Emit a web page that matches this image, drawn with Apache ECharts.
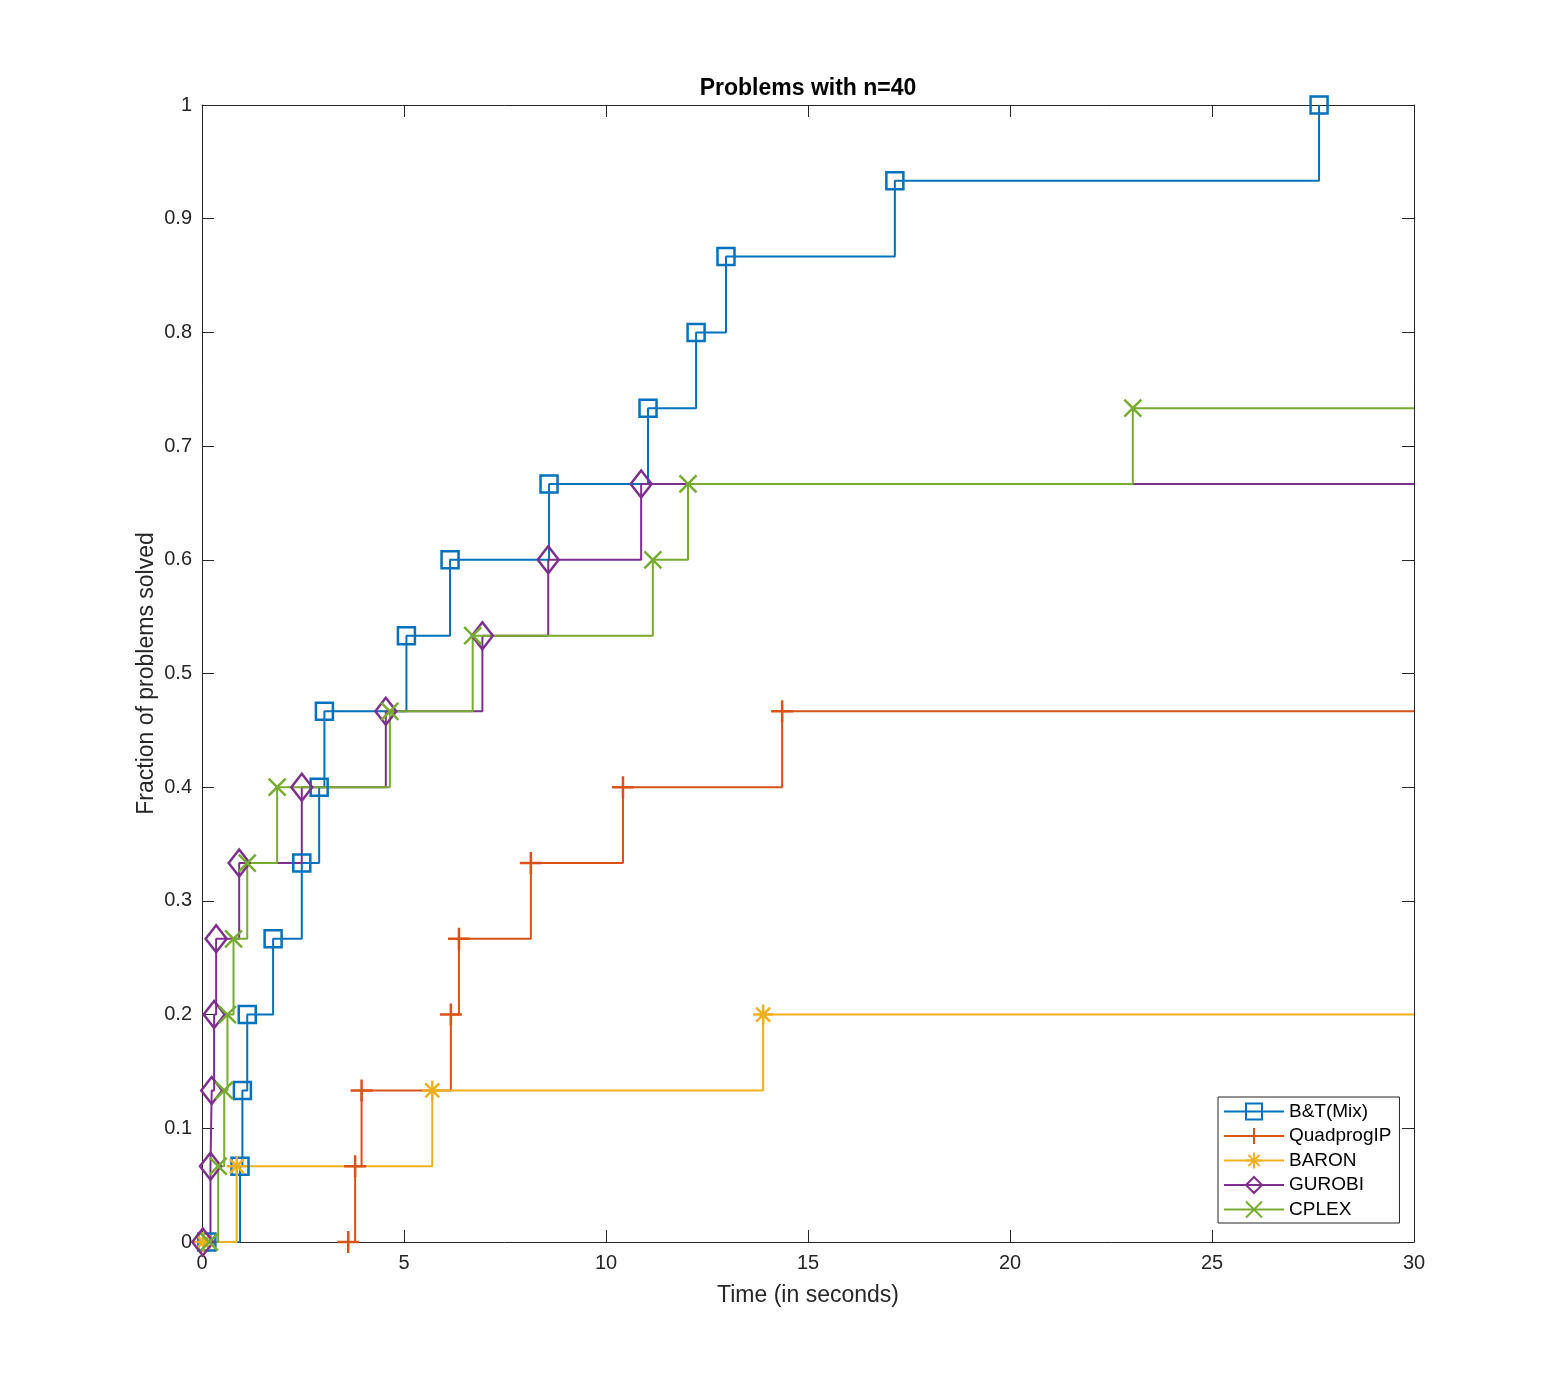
<!DOCTYPE html>
<html>
<head>
<meta charset="utf-8">
<script src="https://cdn.jsdelivr.net/npm/echarts@6/dist/echarts.min.js"></script>
<style>html,body{margin:0;padding:0;background:#fff}#c{width:1563px;height:1395px}</style>
</head>
<body>
<div id="c"></div>
<script>
// ---- data (time in seconds, fraction solved) ----
var seriesNames = ['B&T(Mix)', 'QuadprogIP', 'BARON', 'GUROBI', 'CPLEX'];
var btX = [0.12, 0.94, 1.0, 1.12, 1.76, 2.47, 2.90, 3.03, 5.06, 6.14, 8.59, 11.04, 12.23, 12.97, 17.15, 27.65];
var btY = [0, 0.0667, 0.1333, 0.2, 0.2667, 0.3333, 0.4, 0.4667, 0.5333, 0.6, 0.6667, 0.7333, 0.8, 0.8667, 0.9333, 1.0];
var qpX = [3.62, 3.79, 3.95, 6.16, 6.36, 8.14, 10.42, 14.36, 30];
var qpY = [0, 0.0667, 0.1333, 0.2, 0.2667, 0.3333, 0.4, 0.4667, 0.4667];
var baronX = [0.03, 0.86, 5.70, 13.89, 30];
var baronY = [0, 0.0667, 0.1333, 0.2, 0.2];
var gurobiX = [0.02, 0.21, 0.24, 0.30, 0.35, 0.92, 2.47, 4.55, 6.94, 8.57, 10.87, 30];
var gurobiY = [0, 0.0667, 0.1333, 0.2, 0.2667, 0.3333, 0.4, 0.4667, 0.5333, 0.6, 0.6667, 0.6667];
var cplexX = [0.18, 0.40, 0.55, 0.63, 0.78, 1.12, 1.86, 4.65, 6.70, 11.16, 12.03, 23.04, 30];
var cplexY = [0, 0.0667, 0.1333, 0.2, 0.2667, 0.3333, 0.4, 0.4667, 0.5333, 0.6, 0.6667, 0.7333, 0.7333];
// whether the last point is only a line end (no marker)
var lastIsEnd = [false, true, true, true, true];
var xTickLabels = ['0', '5', '10', '15', '20', '25', '30'];
var yTickLabels = ['0', '0.1', '0.2', '0.3', '0.4', '0.5', '0.6', '0.7', '0.8', '0.9', '1'];

var colors = ['#0072BD', '#D95319', '#EDB120', '#7E2F8E', '#77AC30'];
var symbols = [
  'path://M0,0L10,0L10,10L0,10Z',
  'path://M5,0L5,10M0,5L10,5',
  'path://M5,0L5,10M0,5L10,5M1.5,1.5L8.5,8.5M8.5,1.5L1.5,8.5',
  'path://M5,0L10,6.5L5,13L0,6.5Z',
  'path://M0,0L10,10M10,0L0,10'
];
var symbolSizes = [17, 22, 20, [21, 27], 17];
var xs = [btX, qpX, baronX, gurobiX, cplexX];
var ys = [btY, qpY, baronY, gurobiY, cplexY];

function build(i) {
  var d = [];
  for (var k = 0; k < xs[i].length; k++) {
    var item = { value: [xs[i][k], ys[i][k]] };
    if (lastIsEnd[i] && k === xs[i].length - 1) item.symbol = 'none';
    d.push(item);
  }
  return d;
}

var series = seriesNames.map(function (n, i) {
  return {
    name: n,
    type: 'line',
    step: 'end',
    data: build(i),
    symbol: symbols[i],
    symbolSize: symbolSizes[i],
    showAllSymbol: true,
    clip: false,
    color: colors[i],
    lineStyle: { color: colors[i], width: 2 },
    itemStyle: { color: 'rgba(0,0,0,0)', borderColor: colors[i], borderWidth: 2.5 },
    emphasis: { disabled: true },
    animation: false
  };
});

var axisCol = '#262626';
var font = 'Liberation Sans, Arial, Helvetica, sans-serif';
var chart = echarts.init(document.getElementById('c'));
chart.setOption({
  animation: false,
  backgroundColor: '#fff',
  title: {
    text: 'Problems with n=40',
    left: 808, top: 77, padding: 0, textAlign: 'center',
    textStyle: { fontFamily: font, fontSize: 23, fontWeight: 'bold', color: '#000' }
  },
  grid: { left: 202, top: 105, right: 149, bottom: 153, containLabel: false },
  legend: {
    orient: 'vertical',
    left: 1218, top: 1097,
    padding: [5, 8, 4, 5],
    itemWidth: 60, itemHeight: 20, itemGap: 5.5,
    backgroundColor: '#fff',
    borderColor: axisCol, borderWidth: 1,
    textStyle: { fontFamily: font, fontSize: 19, color: '#000' },
    data: seriesNames
  },
  xAxis: [
    {
      type: 'value', min: 0, max: 30, interval: 5, position: 'bottom',
      name: 'Time (in seconds)', nameLocation: 'middle', nameGap: 42, nameMoveOverlap: false,
      nameTextStyle: { fontFamily: font, fontSize: 23, color: axisCol },
      axisLine: { show: true, lineStyle: { color: axisCol, width: 1 } },
      axisTick: { show: true, inside: true, length: 12, lineStyle: { color: axisCol } },
      axisLabel: { margin: 11, fontFamily: font, fontSize: 20, color: axisCol,
        formatter: function (v) { return xTickLabels[Math.round(v / 5)]; } },
      splitLine: { show: false }
    },
    {
      type: 'value', min: 0, max: 30, interval: 5, position: 'top',
      axisLine: { show: true, onZero: false, lineStyle: { color: axisCol, width: 1 } },
      axisTick: { show: true, inside: true, length: 12, lineStyle: { color: axisCol } },
      axisLabel: { show: false }, splitLine: { show: false }
    }
  ],
  yAxis: [
    {
      type: 'value', min: 0, max: 1, interval: 0.1, position: 'left',
      name: 'Fraction of problems solved', nameLocation: 'middle', nameGap: 44, nameMoveOverlap: false,
      nameTextStyle: { fontFamily: font, fontSize: 23, color: axisCol },
      axisLine: { show: true, lineStyle: { color: axisCol, width: 1 } },
      axisTick: { show: true, inside: true, length: 12, lineStyle: { color: axisCol } },
      axisLabel: { margin: 10, fontFamily: font, fontSize: 20, color: axisCol,
        formatter: function (v) { return yTickLabels[Math.round(v * 10)]; } },
      splitLine: { show: false }
    },
    {
      type: 'value', min: 0, max: 1, interval: 0.1, position: 'right',
      axisLine: { show: true, onZero: false, lineStyle: { color: axisCol, width: 1 } },
      axisTick: { show: true, inside: true, length: 12, lineStyle: { color: axisCol } },
      axisLabel: { show: false }, splitLine: { show: false }
    }
  ],
  series: series
});
</script>
</body>
</html>
